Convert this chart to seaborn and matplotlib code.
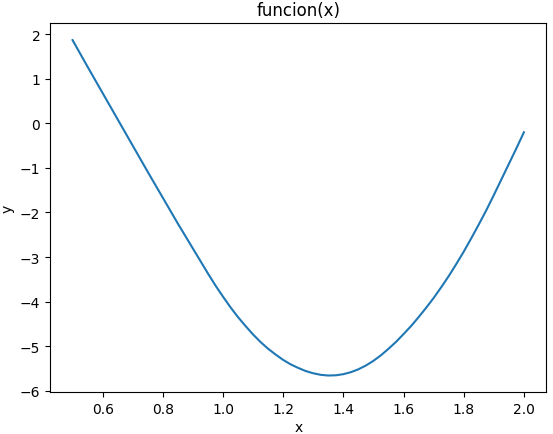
import matplotlib
matplotlib.use("Agg")
import matplotlib.pyplot as plt
import seaborn as sns
import pandas as pd

x_vals = [0.50, 0.55, 0.60, 0.65, 0.70, 0.75, 0.80, 0.85, 0.90, 0.95,
          0.975, 1.00, 1.025, 1.05, 1.075, 1.10, 1.125, 1.15, 1.175, 1.20,
          1.225, 1.25, 1.275, 1.30, 1.325, 1.35, 1.375, 1.40, 1.425, 1.45,
          1.475, 1.50, 1.525, 1.55, 1.575, 1.60, 1.625, 1.65, 1.675, 1.70,
          1.725, 1.75, 1.775, 1.80, 1.825, 1.85, 1.875, 1.90, 1.925, 1.95,
          1.975, 2.00]
y_vals = [1.87, 1.27, 0.68, 0.09, -0.50, -1.09, -1.67, -2.25, -2.81, -3.37,
          -3.64, -3.89, -4.13, -4.35, -4.55, -4.74, -4.91, -5.06, -5.19, -5.31,
          -5.41, -5.49, -5.56, -5.61, -5.645, -5.66, -5.655, -5.63, -5.585, -5.52,
          -5.435, -5.33, -5.205, -5.06, -4.905, -4.73, -4.55, -4.35, -4.14, -3.92,
          -3.68, -3.43, -3.16, -2.88, -2.58, -2.27, -1.95, -1.61, -1.26, -0.91,
          -0.56, -0.20]

df = pd.DataFrame({"x": x_vals, "y": y_vals})

fig = plt.figure(figsize=(5.53, 4.35), dpi=100)
ax = fig.add_axes([0.0904, 0.0959, 0.9882 - 0.0904, 0.9441 - 0.0959])
sns.lineplot(data=df, x="x", y="y", ax=ax, color="#1f77b4", linewidth=1.5)
ax.set_title("funcion(x)")
ax.set_xlabel("x", labelpad=3)
ax.set_ylabel("y")
fig.savefig("out.png", dpi=100)
